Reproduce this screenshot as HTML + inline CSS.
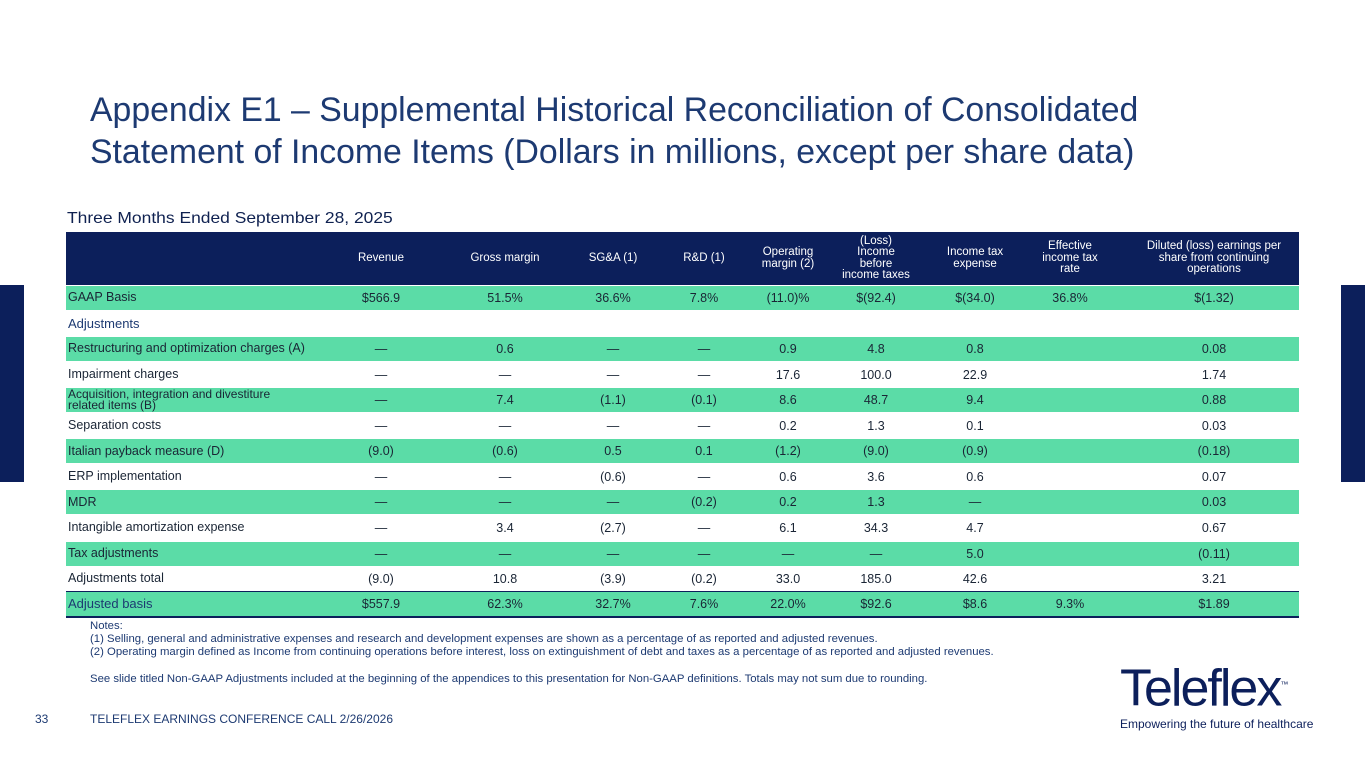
<!DOCTYPE html>
<html><head><meta charset="utf-8">
<style>
body{margin:0;width:1365px;height:768px;background:#fff;position:relative;overflow:hidden;font-family:"Liberation Sans",sans-serif;}
.abs{position:absolute;}
#title{left:90px;top:89px;font-size:33.8px;line-height:42px;color:#1d3a72;white-space:nowrap;}
#subtitle{left:67px;top:210px;font-size:16px;color:#0f2150;transform:scaleX(1.09);transform-origin:left;}
#hdr{left:66px;top:232px;width:1233px;height:53px;background:#0c1f5b;}
.hc{position:absolute;top:0;height:53px;display:flex;align-items:center;justify-content:center;text-align:center;color:#fff;font-size:11.5px;line-height:11.5px;}
.row{position:absolute;left:66px;width:1233px;height:24px;}
.row.g{background:#5bdca7;}
.cell{position:absolute;top:0;height:24px;display:flex;align-items:center;justify-content:center;font-size:12.5px;color:#1a2535;width:130px;}
.lab{position:absolute;left:2px;top:0;height:24px;display:flex;align-items:center;font-size:12.5px;color:#1a2535;line-height:11.5px;}
.side{position:absolute;top:285px;height:197px;width:24px;background:#0c1f5b;}
#notes{left:90px;top:620px;font-size:11.35px;line-height:13.2px;color:#1d3a72;white-space:nowrap;}
#foot{left:35px;top:712px;font-size:12px;color:#1d3a72;}
</style></head><body>
<div class="side" style="left:0"></div>
<div class="side" style="left:1341px"></div>
<div id="title" class="abs">Appendix E1 – Supplemental Historical Reconciliation of Consolidated<br>Statement of Income Items (Dollars in millions, except per share data)</div>
<div id="subtitle" class="abs">Three Months Ended September 28, 2025</div>
<div id="hdr" class="abs"></div>
<div id="body"></div>
<div id="notes" class="abs">Notes:<br>(1) Selling, general and administrative expenses and research and development expenses are shown as a percentage of as reported and adjusted revenues.<br>(2) Operating margin defined as Income from continuing operations before interest, loss on extinguishment of debt and taxes as a percentage of as reported and adjusted revenues.<br><br>See slide titled Non-GAAP Adjustments included at the beginning of the appendices to this presentation for Non-GAAP definitions. Totals may not sum due to rounding.</div>
<div class="abs" style="left:35px;top:712px;font-size:12px;color:#1d3a72;">33</div>
<div id="foot" class="abs" style="left:90px">TELEFLEX EARNINGS CONFERENCE CALL 2/26/2026</div>
<div class="abs" style="left:1120px;top:660px;color:#0c1f5b;">
<div style="font-size:52px;letter-spacing:-2px;line-height:50px;">Teleflex<sup style="font-size:8px;letter-spacing:0">™</sup></div>
<div style="font-size:12px;margin-top:4px;">Empowering the future of healthcare</div>
</div>
<script>
const headers=["Revenue","Gross margin","SG&amp;A (1)","R&amp;D (1)","Operating<br>margin (2)","(Loss)<br>Income<br>before<br>income taxes","Income tax<br>expense","Effective<br>income tax<br>rate","Diluted (loss) earnings per<br>share from continuing<br>operations"];
const centers=[381,505,613,704,788,876,975,1070,1214];
const labels=["GAAP Basis","Adjustments","Restructuring and optimization charges (A)","Impairment charges","Acquisition, integration and divestiture<br>related items (B)","Separation costs","Italian payback measure (D)","ERP implementation","MDR","Intangible amortization expense","Tax adjustments","Adjustments total","Adjusted basis"];
const values=[
["$566.9","51.5%","36.6%","7.8%","(11.0)%","$(92.4)","$(34.0)","36.8%","$(1.32)"],
["","","","","","","","",""],
["—","0.6","—","—","0.9","4.8","0.8","","0.08"],
["—","—","—","—","17.6","100.0","22.9","","1.74"],
["—","7.4","(1.1)","(0.1)","8.6","48.7","9.4","","0.88"],
["—","—","—","—","0.2","1.3","0.1","","0.03"],
["(9.0)","(0.6)","0.5","0.1","(1.2)","(9.0)","(0.9)","","(0.18)"],
["—","—","(0.6)","—","0.6","3.6","0.6","","0.07"],
["—","—","—","(0.2)","0.2","1.3","—","","0.03"],
["—","3.4","(2.7)","—","6.1","34.3","4.7","","0.67"],
["—","—","—","—","—","—","5.0","","(0.11)"],
["(9.0)","10.8","(3.9)","(0.2)","33.0","185.0","42.6","","3.21"],
["$557.9","62.3%","32.7%","7.6%","22.0%","$92.6","$8.6","9.3%","$1.89"]];
const hdr=document.getElementById('hdr');
headers.forEach((h,i)=>{const d=document.createElement('div');d.className='hc';


const w=i==8?170:100;d.style.left=(centers[i]-66-w/2)+'px';d.style.width=w+'px';d.innerHTML=h;hdr.appendChild(d);});
const body=document.getElementById('body');
labels.forEach((l,r)=>{const row=document.createElement('div');
row.className='row'+(r%2==0&&r<12?' g':'');


row.style.top=(286+r*25.55)+'px';
if(r==12){row.style.background='#5bdca7';row.style.borderTop='1.5px solid #0c1f5b';row.style.borderBottom='2px solid #0c1f5b';row.style.top=(591+0)+'px';}
const lb=document.createElement('div');lb.className='lab';lb.innerHTML=l;


if(r==1||r==12){lb.style.fontSize='13px';lb.style.color='#1d3a72';}
if(r==4){lb.style.fontSize='12px';}
row.appendChild(lb);
values[r].forEach((v,c)=>{const d=document.createElement('div');d.className='cell';


d.style.left=(centers[c]-66-65)+'px';d.textContent=v;row.appendChild(d);});
body.appendChild(row);});
</script>
</body></html>
